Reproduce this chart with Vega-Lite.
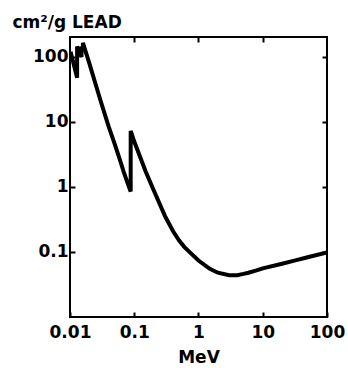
{
  "$schema": "https://vega.github.io/schema/vega-lite/v6.json",
  "width": 257,
  "height": 280,
  "autosize": "none",
  "padding": {"left": 70, "top": 37, "right": 21, "bottom": 51},
  "background": "white",
  "config": {
    "view": {"stroke": "black", "strokeWidth": 2},
    "axis": {
      "font": "DejaVu Sans",
      "labelFont": "DejaVu Sans",
      "titleFont": "DejaVu Sans",
      "labelFontWeight": "bold",
      "titleFontWeight": "bold",
      "labelColor": "black",
      "titleColor": "black",
      "labelFontSize": 17,
      "titleFontSize": 17,
      "grid": false,
      "domain": false,
      "tickColor": "black",
      "tickWidth": 2,
      "tickSize": -5
    }
  },
  "data": {
    "values": [
      {"i": 1, "mev": 0.0102, "mu": 120},
      {"i": 2, "mev": 0.0129, "mu": 48},
      {"i": 3, "mev": 0.0129, "mu": 145},
      {"i": 4, "mev": 0.0151, "mu": 100},
      {"i": 5, "mev": 0.0151, "mu": 145},
      {"i": 6, "mev": 0.0159, "mu": 128},
      {"i": 7, "mev": 0.0159, "mu": 165},
      {"i": 8, "mev": 0.02, "mu": 80},
      {"i": 9, "mev": 0.03, "mu": 21},
      {"i": 10, "mev": 0.04, "mu": 8.5},
      {"i": 11, "mev": 0.05, "mu": 4.5},
      {"i": 12, "mev": 0.06, "mu": 2.6},
      {"i": 13, "mev": 0.07, "mu": 1.6},
      {"i": 14, "mev": 0.08, "mu": 1.1},
      {"i": 15, "mev": 0.088, "mu": 0.85},
      {"i": 16, "mev": 0.088, "mu": 7.3},
      {"i": 17, "mev": 0.1, "mu": 5.0},
      {"i": 18, "mev": 0.15, "mu": 1.75},
      {"i": 19, "mev": 0.2, "mu": 0.9},
      {"i": 20, "mev": 0.3, "mu": 0.36},
      {"i": 21, "mev": 0.4, "mu": 0.21},
      {"i": 22, "mev": 0.5, "mu": 0.15},
      {"i": 23, "mev": 0.6, "mu": 0.12},
      {"i": 24, "mev": 0.8, "mu": 0.091},
      {"i": 25, "mev": 1, "mu": 0.074},
      {"i": 26, "mev": 1.5, "mu": 0.055},
      {"i": 27, "mev": 2, "mu": 0.048},
      {"i": 28, "mev": 3, "mu": 0.044},
      {"i": 29, "mev": 4, "mu": 0.044},
      {"i": 30, "mev": 5, "mu": 0.046},
      {"i": 31, "mev": 6, "mu": 0.048},
      {"i": 32, "mev": 8, "mu": 0.052},
      {"i": 33, "mev": 10, "mu": 0.056},
      {"i": 34, "mev": 20, "mu": 0.066},
      {"i": 35, "mev": 30, "mu": 0.073},
      {"i": 36, "mev": 50, "mu": 0.083},
      {"i": 37, "mev": 100, "mu": 0.098}
    ]
  },
  "layer": [
    {
      "mark": {"type": "line", "color": "black", "strokeWidth": 4, "strokeJoin": "miter", "clip": true},
      "encoding": {
        "x": {"field": "mev", "type": "quantitative",
          "scale": {"type": "log", "domain": [0.01, 100]},
          "axis": {"orient": "bottom", "values": [0.01, 0.1, 1, 10, 100], "labelExpr": "toString(datum.value)", "labelPadding": 12, "title": "MeV", "titleY": 45, "titleBaseline": "alphabetic", "labelFlush": false, "labelOverlap": false}},
        "y": {"field": "mu", "type": "quantitative",
          "scale": {"type": "log", "domain": [0.01, 203]},
          "axis": {"orient": "left", "values": [0.1, 1, 10, 100], "labelExpr": "toString(datum.value)", "labelPadding": 7, "title": "cm²/g LEAD", "titleAngle": 0, "titleX": -58, "titleY": -10, "titleAlign": "left", "titleBaseline": "alphabetic", "labelFlush": false, "labelOverlap": false}},
        "order": {"field": "i", "type": "quantitative"}
      }
    },
    {
      "mark": {"type": "line", "opacity": 0},
      "encoding": {
        "x": {"field": "mev", "type": "quantitative",
          "scale": {"type": "log", "domain": [0.01, 100]},
          "axis": {"orient": "top", "values": [0.1, 1, 10], "labels": false, "title": null}},
        "y": {"field": "mu", "type": "quantitative",
          "scale": {"type": "log", "domain": [0.01, 203]},
          "axis": {"orient": "right", "values": [0.1, 1, 10, 100], "labels": false, "title": null}},
        "order": {"field": "i", "type": "quantitative"}
      }
    }
  ],
  "resolve": {"axis": {"x": "independent", "y": "independent"}}
}
